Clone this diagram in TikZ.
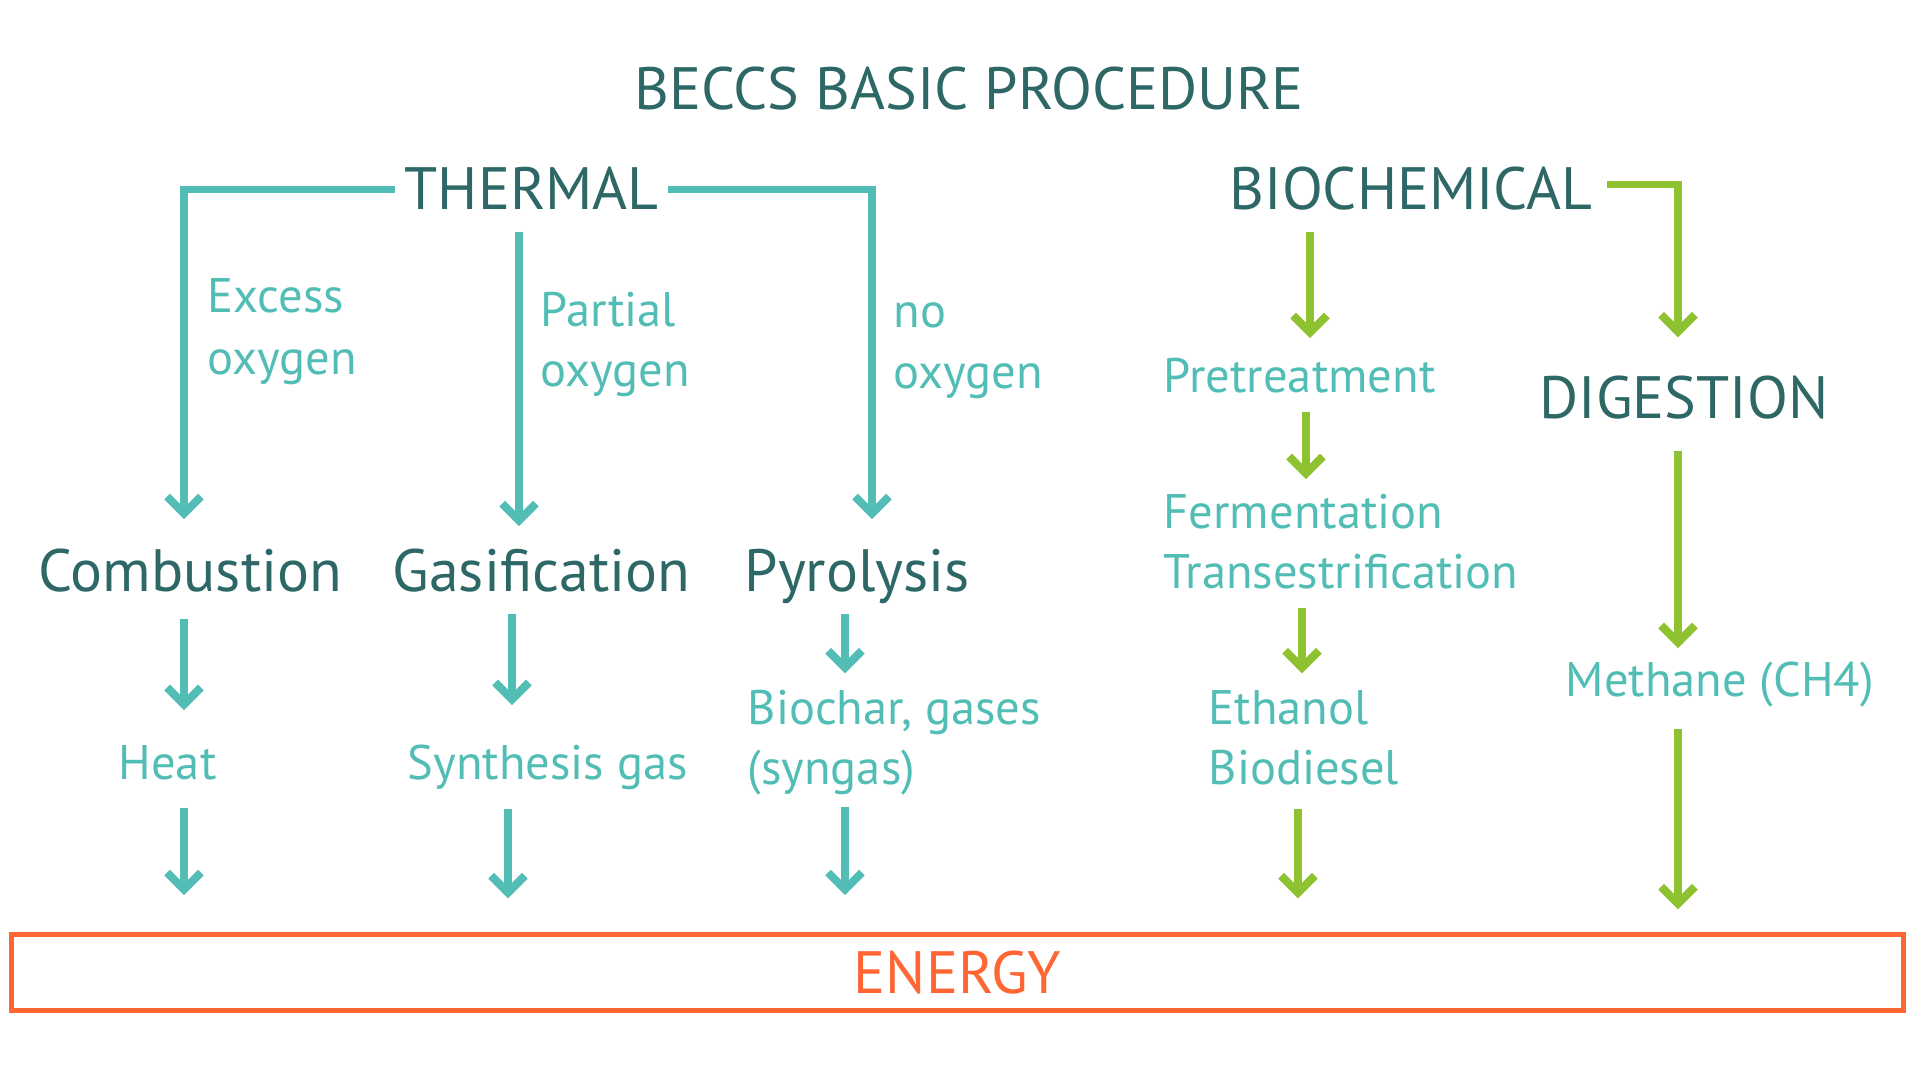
\documentclass[tikz,border=0pt]{standalone}
\usepackage{fontspec}
\setmainfont{PT Sans}
\usetikzlibrary{arrows.meta}
\definecolor{dteal}{HTML}{2E6866}
\definecolor{lteal}{HTML}{52BDB5}
\definecolor{lgreen}{HTML}{8FC230}
\definecolor{eorange}{HTML}{FF6633}
\begin{document}
\begin{tikzpicture}[x=0.01cm,y=-0.01cm,
  big/.style={font=\fontsize{17}{20}\selectfont, text=dteal, inner sep=0pt, text height=12.5pt, text depth=3.4pt, anchor=base west},
  sm/.style={font=\fontsize{13.8}{16}\selectfont, text=lteal, inner sep=0pt, text height=9.7pt, text depth=2.9pt, anchor=base west},
  tarr/.style={draw=lteal, line width=2pt, -{Straight Barb[length=4.8pt,width=9.6pt,line width=2.3pt]}},
  garr/.style={draw=lgreen, line width=2pt, -{Straight Barb[length=4.8pt,width=9.6pt,line width=2.3pt]}}]
\useasboundingbox (0,0) rectangle (1920,1080);

% titles
\node[big, anchor=base] (title) at (969,110) {BECCS BASIC PROCEDURE};
\node[big] (thermal) at (404,210) {THERMAL};
\node[big] (bio) at (1229,210) {BIOCHEMICAL};

% thermal branch
\node[sm] (exc1) at (207,313) {Excess};
\node[sm] (exc2) at (207,375) {oxygen};
\node[sm] (par1) at (540,327) {Partial};
\node[sm] (par2) at (540,387) {oxygen};
\node[sm] (no1) at (893,328) {no};
\node[sm] (no2) at (893,389) {oxygen};

\node[big] (comb) at (38,592) {Combustion};
\node[big] (gas) at (392,592) {Gasification};
\node[big] (pyro) at (744,592) {Pyrolysis};

\node[sm] (heat) at (118,780) {Heat};
\node[sm] (syn) at (407,780) {Synthesis gas};
\node[sm] (bc1) at (747,725) {Biochar, gases};
\node[sm] (bc2) at (747,785) {(syngas)};

% biochemical branch
\node[sm] (pret) at (1163,393) {Pretreatment};
\node[sm] (ferm) at (1163,529) {Fermentation};
\node[sm] (trans) at (1163,589) {Transestrification};
\node[sm] (eth) at (1208,725) {Ethanol};
\node[sm] (biod) at (1208,785) {Biodiesel};
\node[big] (dig) at (1539,419) {DIGESTION};
\node[sm] (meth) at (1565,697) {Methane (CH4)};

% energy
\node[draw=eorange, line width=1.55pt, minimum width=538pt, minimum height=21.6pt, inner sep=0pt,
      text=eorange, font=\fontsize{17}{20}\selectfont] (energy) at (957.5,972.5) {ENERGY};

% column coordinates
\coordinate (cA) at (184,0);
\coordinate (cB) at (519,0);
\coordinate (cC) at (872,0);
\coordinate (cB2) at (512,0);
\coordinate (cB3) at (508,0);
\coordinate (cC2) at (845,0);
\coordinate (cD) at (1310,0);
\coordinate (cD2) at (1306,0);
\coordinate (cD3) at (1302,0);
\coordinate (cD4) at (1298,0);
\coordinate (cE) at (1678,0);

% thermal connectors
\draw[tarr, shorten >=8pt] ([xshift=-2.5pt,yshift=1.2pt]thermal.west) -| (cA |- comb.north);
\draw[tarr, shorten <=2.6pt, shorten >=6pt] (cB |- thermal.south) -- (cB |- gas.north);
\draw[tarr, shorten >=8pt] ([xshift=2.5pt,yshift=1.2pt]thermal.east) -| (cC |- pyro.north);

\draw[tarr, shorten <=4pt, shorten >=10pt] (cA |- comb.south) -- (cA |- heat.north);
\draw[tarr, shorten <=2.6pt, shorten >=11.4pt] (cB2 |- gas.south) -- (cB2 |- syn.north);
\draw[tarr, shorten <=2.6pt, shorten >=4.8pt] (cC2 |- pyro.south) -- (cC2 |- bc1.north);

\draw[tarr, shorten <=4.8pt, shorten >=10.4pt] (cA |- heat.south) -- (cA |- energy.north);
\draw[tarr, shorten <=5.1pt, shorten >=9.5pt] (cB3 |- syn.south) -- (cB3 |- energy.north);
\draw[tarr, shorten <=3.1pt, shorten >=10.4pt] (cC2 |- bc2.south) -- (cC2 |- energy.north);

% biochemical connectors
\draw[garr, shorten <=2.8pt, shorten >=5.7pt] (cD |- bio.south) -- (cD |- pret.north);
\draw[garr, shorten >=10.5pt] ([xshift=4pt,yshift=2.6pt]bio.east) -| (cE |- dig.north);
\draw[garr, shorten <=2.3pt, shorten >=4.3pt] (cD2 |- pret.south) -- (cD2 |- ferm.north);
\draw[garr, shorten <=2.3pt, shorten >=4.8pt] (cD3 |- trans.south) -- (cD3 |- eth.north);
\draw[garr, shorten <=3.7pt, shorten >=9.5pt] (cD4 |- biod.south) -- (cD4 |- energy.north);
\draw[garr, shorten <=5.4pt, shorten >=4pt] (cE |- dig.south) -- (cE |- meth.north);
\draw[garr, shorten <=6pt, shorten >=6.4pt] (cE |- meth.south) -- (cE |- energy.north);
\end{tikzpicture}
\end{document}
